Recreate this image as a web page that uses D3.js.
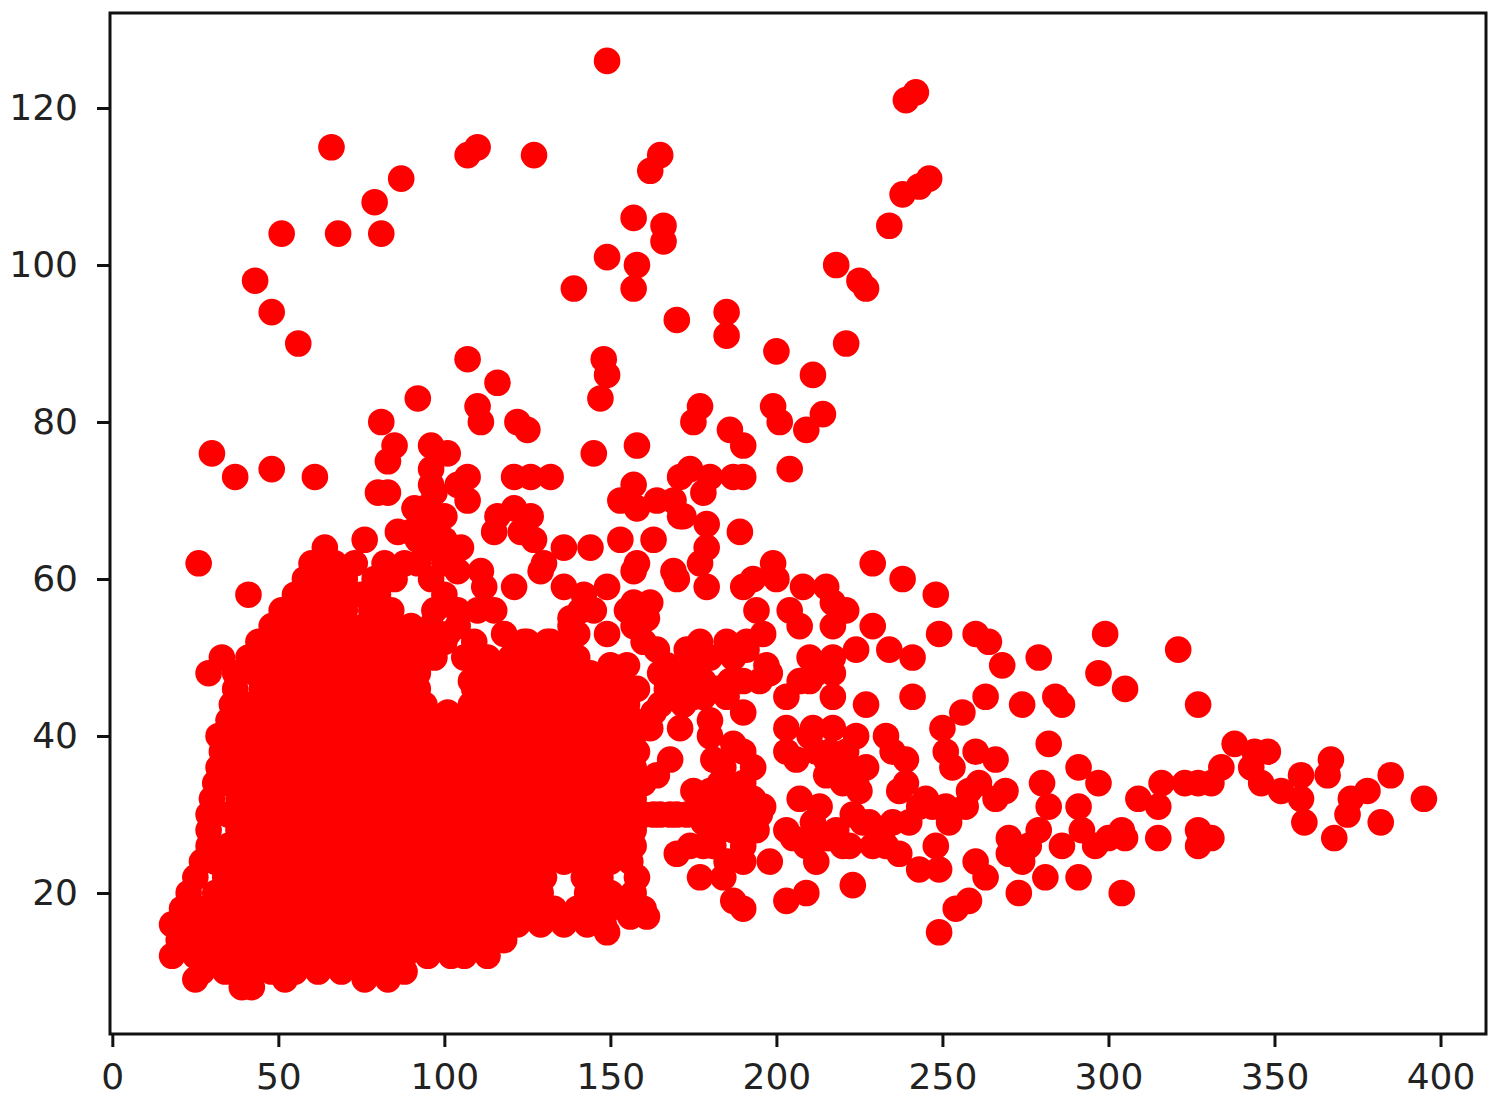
<!DOCTYPE html>
<html><head><meta charset="utf-8">
<script src="https://cdn.jsdelivr.net/npm/d3@7/dist/d3.min.js"></script>
<style>html,body{margin:0;padding:0;background:#fff}svg{display:block}
text{font-family:"DejaVu Sans",sans-serif}</style></head>
<body><svg id="c" width="1500" height="1108"></svg>
<script>
const xTicks=[0,50,100,150,200,250,300,350,400];
const yTicks=[20,40,60,80,100,120];
const denseRows=[
[8,[39,42]],
[9,[25,52,76,83]],
[10,[27,34,41,48,55,62,69,76,83,88]],
[12,[18,25,32,39,46,53,60,67,74,81,88,95,102,106,113]],
[14,[20,27,34,41,48,55,62,69,76,83,90,97,104,111,118]],
[16,[18,24,31,38,45,52,59,66,73,80,87,94,101,108,115,122,129,136,143,148]],
[18,[21,28,35,42,49,56,63,70,77,84,91,98,105,112,119,126,133,140,147,154,160]],
[20,[23,31,38,45,52,59,66,73,80,87,94,101,108,115,122,129,143,150,157]],
[22,[25,34,41,48,55,62,69,76,83,90,97,104,111,118,125,130,142,147,158]],
[24,[27,31,38,45,52,59,66,73,80,87,94,101,108,115,122,129,136,143,150,156]],
[26,[29,35,42,49,56,63,70,77,84,91,98,105,112,119,126,133,140,147,154,157]],
[28,[29,38,45,52,59,66,73,80,87,94,101,108,115,122,129,136,143,150,157]],
[30,[29,35,42,49,56,63,70,77,84,91,98,105,112,119,126,133,140,147,154,160]],
[32,[30,38,45,52,59,66,73,80,87,94,101,108,115,122,129,136,143,150,157]],
[34,[31,35,42,49,56,63,70,77,84,91,98,105,112,119,126,133,140,147,154,158]],
[36,[32,38,45,52,59,66,73,80,87,94,101,108,115,122,129,136,143,150,157]],
[38,[33,40,47,54,61,68,75,82,89,96,103,110,117,124,131,138,145,152,158]],
[40,[32,38,45,52,59,66,73,80,87,94,101,108,115,122,129,136,143,150,157]],
[42,[35,41,48,55,62,69,76,83,90,97,104,111,118,125,132,139,146,153,157]],
[43,[101]],
[44,[36,42,49,56,63,70,77,84,91,94,108,115,122,129,136,143,149,155]],
[46,[37,45,52,59,66,73,80,87,92,109,116,123,130,137,144,151]],
[48,[29,37,43,50,57,64,71,78,85,92,110,117,124,131,138,144,153]],
[50,[33,41,48,55,62,69,76,83,90,97,106,113,120,127,134,140]],
[52,[44,51,58,65,72,79,86,93,100,109,124,131,138]],
[54,[48,55,62,69,76,83,90,96,104,138]],
[56,[51,58,65,70,78,84,97,104,110]],
[58,[55,62,68,75,80,100]],
[60,[58,64,70,79,85,96]],
[62,[60,67,73,82,88,92,100]]
];
const outlierPoints=[
[149,126],[242,122],[239,121],[110,115],[66,115],[107,114],[127,114],[165,114],[162,112],[87,111],
[246,111],[243,110],[238,109],[79,108],[157,106],[166,105],[234,105],[51,104],[68,104],[81,104],
[166,103],[149,101],[158,100],[218,100],[225,98],[43,98],[227,97],[139,97],[157,97],[48,94],
[185,94],[170,93],[185,91],[56,90],[221,90],[107,88],[148,88],[200,89],[149,86],[211,86],
[116,85],[92,83],[147,83],[177,82],[199,82],[110,82],[214,81],[81,80],[111,80],[122,80],
[175,80],[201,80],[125,79],[186,79],[209,79],[30,76],[96,77],[85,77],[158,77],[190,77],
[101,76],[145,76],[83,75],[48,74],[96,74],[174,74],[204,74],[37,73],[61,73],[96,72],
[107,73],[121,73],[126,73],[132,73],[171,73],[180,73],[187,73],[190,73],[83,71],[80,71],
[97,71],[104,72],[107,70],[157,72],[153,70],[164,70],[169,70],[178,71],[91,69],[172,68],
[121,69],[126,68],[116,68],[158,69],[94,69],[100,68],[171,68],[189,66]
];
const middlePoints=[
[26,62],[41,58],[64,64],[76,65],[86,66],[92,65],[100,65],[105,64],[115,66],[123,66],
[127,65],[129,61],[130,62],[136,64],[144,64],[153,65],[158,62],[163,65],[170,60],[177,62],
[179,64],[179,67],[169,61],[179,59],[104,61],[111,61],[112,59],[121,59],[136,59],[142,58],
[145,56],[149,59],[157,61],[162,57],[155,56],[157,57],[157,54],[160,52],[152,48],[149,53],
[115,56],[118,53],[96,64],[90,66],[95,67],[138,55],[141,56],[140,53],[161,55],[164,51],
[167,49],[132,52],[125,52],[137,47],[147,46],[101,53],[108,47],[167,46],[169,45],[175,45],
[175,49],[173,51],[177,52],[180,50],[182,46],[185,52],[187,50],[191,51],[191,52],[195,47],
[197,49],[198,48],[171,41],[180,42],[180,40],[199,62],[190,59],[193,60],[200,60],[208,59],
[215,59],[194,56],[196,53],[204,56],[207,54],[217,57],[221,56],[217,54],[217,50],[210,50],
[203,45],[210,47],[217,45],[217,48],[212,48],[207,47],[190,43],[203,41],[203,38],[206,37],
[211,41],[217,41],[224,40],[221,38],[227,36],[215,35],[220,34],[225,33],[168,37],[164,35],
[160,34],[165,30],[170,30],[175,33],[179,32],[184,31],[190,31],[196,31],[187,39],[181,37],
[193,36],[190,38],[187,33],[194,28],[183,28],[191,28],[181,26],[190,26],[185,24],[190,24],
[207,32],[213,31],[203,28],[215,27],[211,29],[198,24],[212,24],[209,26],[220,26],[209,20],
[203,19],[187,19],[190,18],[177,22],[184,22],[170,25],[174,26],[161,17],[156,17],[149,15],
[150,49],[155,49],[165,48],[170,48],[172,47],[178,47],[186,47],[190,47],[178,45],[185,45],
[172,44],[165,44],[163,43],[158,46],[162,41],[178,29],[185,30],[178,26],[187,28],[195,30],
[183,34],[190,34],[184,36],[176,30],[188,30],[180,33],[193,32],[216,38],[210,40],[212,38],
[215,37],[218,35],[222,36],[224,34],[216,27],[205,27],[163,30],[168,30],[173,30]
];
const rightPoints=[
[229,62],[238,60],[248,58],[229,54],[249,53],[260,53],[264,52],[279,50],[268,49],[224,51],
[234,51],[241,50],[263,45],[241,45],[227,44],[274,44],[284,45],[286,44],[256,43],[250,41],
[282,39],[251,38],[253,36],[260,38],[266,37],[291,36],[297,34],[280,34],[282,31],[291,31],
[269,33],[266,32],[261,34],[258,33],[257,31],[251,31],[270,27],[279,28],[270,25],[274,24],
[276,26],[286,26],[292,28],[296,26],[281,22],[291,22],[273,20],[260,24],[263,22],[258,19],
[254,18],[249,15],[249,23],[248,26],[243,23],[237,25],[233,26],[223,21],[229,26],[222,26],
[223,30],[235,29],[243,31],[247,31],[237,33],[239,34],[233,40],[235,38],[239,37],[245,32],
[228,29],[232,28],[299,53],[297,48],[305,46],[321,51],[327,44],[338,39],[344,38],[348,38],
[343,36],[334,36],[346,34],[352,33],[358,35],[367,37],[366,35],[385,35],[395,32],[378,33],
[373,32],[372,30],[382,29],[358,32],[359,29],[368,27],[309,32],[316,34],[315,31],[323,34],
[327,34],[331,34],[315,27],[305,27],[304,28],[300,27],[327,28],[327,26],[329,27],[331,27],[304,20],
[240,29],[252,29],[226,29],[218,28]
];

const svg=d3.select("#c");
const x=d3.scaleLinear().domain([-0.7,413.7]).range([110,1486]);
const y=d3.scaleLinear().domain([2.04,132.1]).range([1034,13]);

const allPoints=[...denseRows.flatMap(([v,xs])=>xs.map(u=>[u,v])),...outlierPoints,...middlePoints,...rightPoints];
svg.append("g").selectAll("circle").data(allPoints).join("circle")
  .attr("cx",d=>x(d[0])).attr("cy",d=>y(d[1])).attr("r",13.3).attr("fill","#ff0000");

const gx=svg.append("g").attr("transform","translate(0,1034)")
  .call(d3.axisBottom(x).tickValues(xTicks).tickSize(13).tickPadding(16).tickFormat(d3.format("d")));
const gy=svg.append("g").attr("transform","translate(110,0)")
  .call(d3.axisLeft(y).tickValues(yTicks).tickSize(13).tickPadding(19).tickFormat(d3.format("d")));
[gx,gy].forEach(g=>{
  g.select(".domain").remove();
  g.selectAll("line").attr("stroke","#111").attr("stroke-width",3);
  g.selectAll("text").attr("fill","#222").attr("font-size",36).attr("font-family","DejaVu Sans");
});
svg.append("rect").attr("x",110).attr("y",13).attr("width",1376).attr("height",1021)
  .attr("fill","none").attr("stroke","#111").attr("stroke-width",3);
</script></body></html>
